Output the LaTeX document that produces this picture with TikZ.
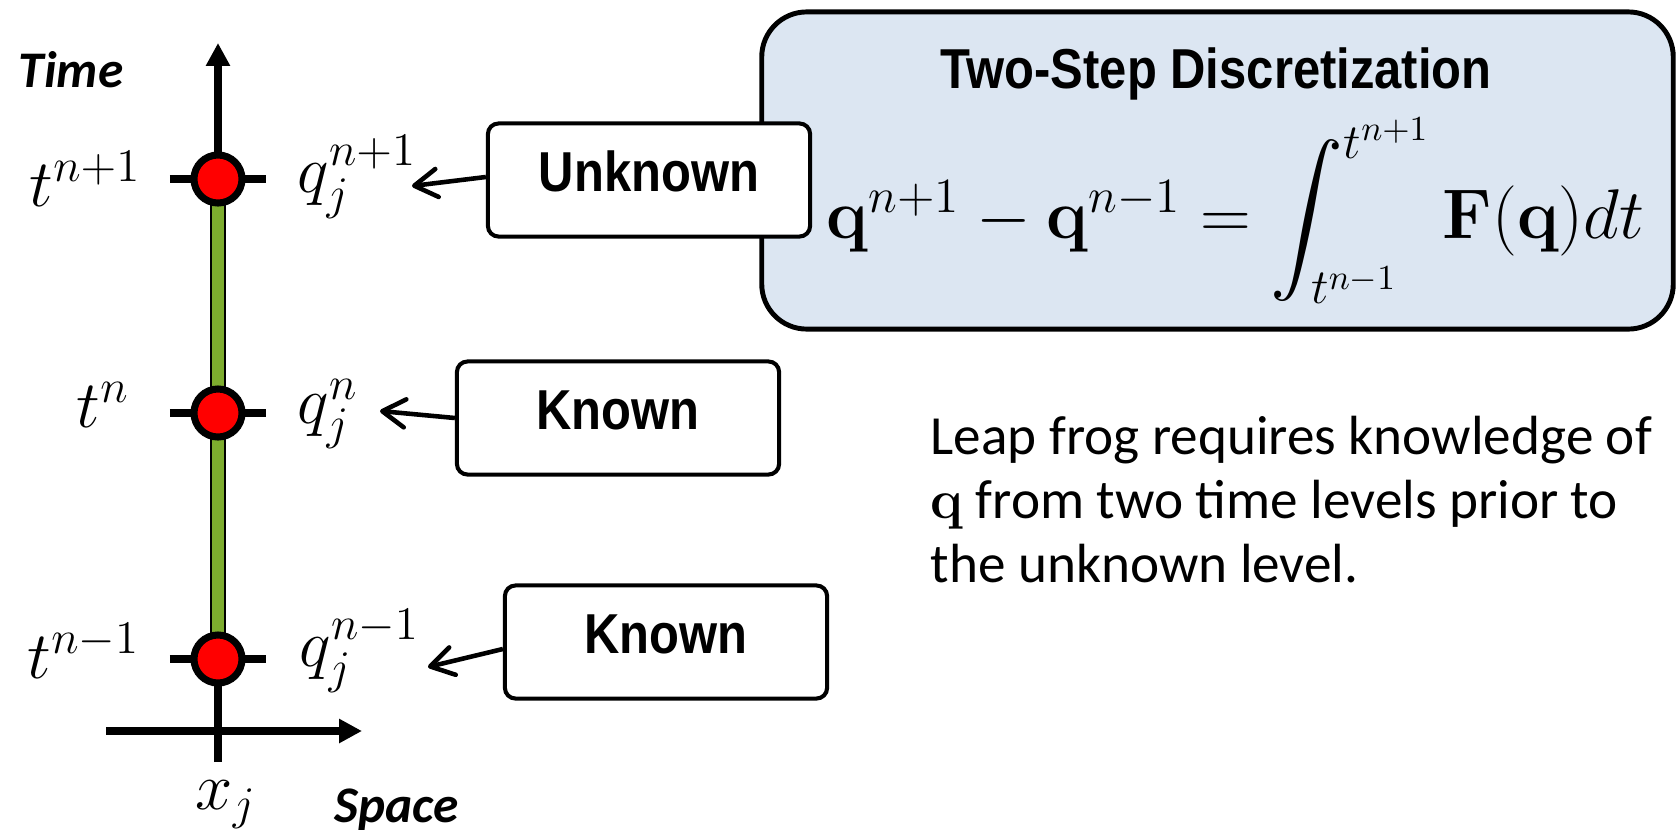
\RequirePackage{fix-cm}
\documentclass[tikz,border=0pt]{standalone}
\usepackage{amsmath}
\usepackage[no-math]{fontspec}
\newfontfamily\notefont{Carlito}
\newfontfamily\boxfont[FakeStretch=0.87]{Liberation Sans}
\usepackage{tikz}
\usetikzlibrary{arrows.meta, positioning, backgrounds}

\definecolor{stemgreen}{RGB}{125,172,46}
\definecolor{panelblue}{RGB}{220,230,242}

\begin{document}
\begin{tikzpicture}[
    x=0.01cm, y=-0.01cm,
    axis/.style={line width=2pt, -{Triangle[length=6.5pt, width=6.5pt]}},
    tick/.style={line width=2pt},
    level/.style={
        circle, draw=black, line width=2pt, fill=red,
        minimum size=0.48cm, inner sep=0pt
    },
    tag/.style={
        rectangle, rounded corners=3pt,
        draw=black, line width=1.15pt, fill=white,
        minimum width=3.22cm, minimum height=1.13cm,
        font=\boxfont\bfseries\fontsize{16}{18}\selectfont,
        text height=11.5pt, text depth=5pt
    },
    pointer/.style={line width=1.3pt, -{Straight Barb[length=6.5pt, width=8pt, round]}},
    mathlbl/.style={font=\fontsize{19}{21}\selectfont, inner sep=0pt},
    axislbl/.style={font=\notefont\bfseries\itshape\fontsize{14.6}{16}\selectfont, inner sep=0pt},
]
\useasboundingbox (0,0) rectangle (1678,830);

% Time levels on the stencil
\node[level] (lvA) at (218,179) {};
\node[level] (lvB) at (218,413) {};
\node[level] (lvC) at (218,659) {};

\node[mathlbl, anchor=west] (tA) at (29,179)  {$t^{n+1}$};
\node[mathlbl, anchor=west] (tB) at (76,405)  {$t^{n}$};
\node[mathlbl, anchor=west] (tC) at (27,651)  {$t^{n-1}$};

\node[mathlbl, anchor=west] (qA) at (297,177) {$q_j^{n+1}$};
\node[mathlbl, anchor=west] (qB) at (297,414) {$q_j^{n}$};
\node[mathlbl, anchor=west] (qC) at (299,651) {$q_j^{n-1}$};

\node[mathlbl] (xj) at (226,805) {$x_j$};
\node[axislbl, anchor=base west] (timelbl) at (18,87) {Time};
\node[axislbl, anchor=base west] (spacelbl) at (334,822) {Space};

% Axes, ticks and the green stem
\coordinate (tbottom) at (218,762);
\coordinate (ttop) at (218,43);
\coordinate (sleft) at (106,731);
\coordinate (sright) at (362,731);
\begin{scope}[on background layer]
    \draw[axis] (tbottom) -- (ttop);
    \draw[axis] (sleft) -- (sright);
    \draw[draw=black, line width=0.5pt, double=stemgreen, double distance=3.3pt]
        (lvA.center) -- (lvC.center);
    \foreach \lv in {lvA,lvB,lvC}
        \draw[tick] ([xshift=-0.48cm]\lv.center) -- ([xshift=0.48cm]\lv.center);
\end{scope}

% Scheme panel
\node[rectangle, rounded corners=12.8pt, draw=black, line width=1.4pt, fill=panelblue,
      minimum width=9.11cm, minimum height=3.17cm] (panel) at (1217.5,170.5) {};
\node[anchor=base, inner sep=0pt, font=\boxfont\bfseries\fontsize{16}{18}\selectfont]
    (title) at (1216,88) {Two-Step Discretization};
\node[anchor=base west, inner sep=0pt, font=\fontsize{20}{24}\selectfont] (eq) at (826,238)
    {$\mathbf{q}^{n+1}-\mathbf{q}^{n-1}=\displaystyle\int_{t^{n-1}}^{t^{n+1}}\mathbf{F}(\mathbf{q})dt$};

% Callouts
\node[tag] (unk) at (649,180) {Unknown};
\node[tag] (knA) at (618,418) {Known};
\node[tag] (knB) at (666,642) {Known};

\coordinate (aimA) at (412,186);
\coordinate (aimB) at (380,411);
\coordinate (aimC) at (428,667);
\draw[pointer] ([yshift=0.03cm]unk.west) -- (aimA);
\draw[pointer] (knA.west) -- (aimB);
\draw[pointer] ([yshift=-0.07cm]knB.west) -- (aimC);

% Note (base anchor sits on the last line)
\node[anchor=base west, align=left, inner sep=0pt,
      font=\notefont\fontsize{15.7}{18.06}\selectfont] (note) at (930,582)
    {Leap frog requires knowledge of\\
     $\mathbf{q}$ from two time levels prior to\\
     the unknown level.};

\end{tikzpicture}
\end{document}
